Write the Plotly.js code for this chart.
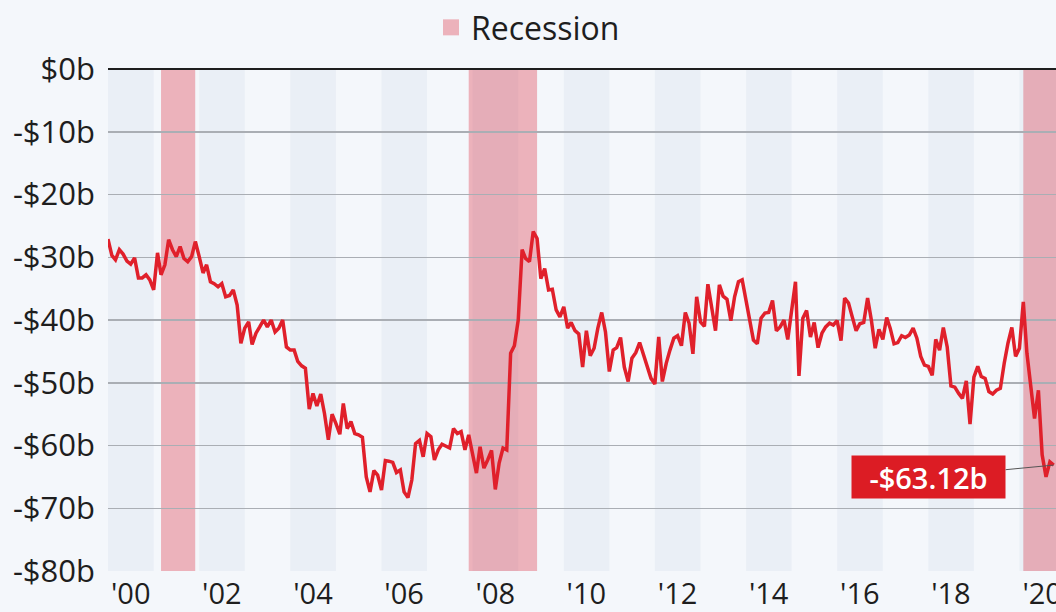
<!DOCTYPE html>
<html>
<head>
<meta charset="utf-8">
<script src="https://cdn.plot.ly/plotly-3.0.1.min.js"></script>
<style>
  html, body { margin: 0; padding: 0; background: #f4f7fb; }
  #chart { width: 1056px; height: 612px; }
</style>
</head>
<body>
<div id="chart"></div>
<script>
// Monthly US trade balance in billions of dollars, starting January 2000
const startYear = 2000;
const deficit = [
  -27.1, -29.7, -30.4, -28.8, -29.5, -30.6, -31.1, -30.1, -33.3, -33.3, -32.8, -33.6, // 2000
  -35.2, -29.3, -32.8, -31.2, -27.2, -28.8, -29.9, -28.3, -30.2, -30.7, -29.9, -27.5, // 2001
  -29.9, -32.5, -31.2, -33.9, -34.2, -34.7, -34.2, -36.3, -36.1, -35.2, -37.6, -43.7, // 2002
  -41.3, -40.3, -43.9, -42.1, -41.1, -40.0, -41.1, -40.0, -41.9, -41.3, -40.0, -44.3, // 2003
  -44.8, -44.8, -46.6, -47.3, -47.7, -54.2, -51.7, -53.7, -51.8, -54.9, -59.1, -55.0, // 2004
  -56.5, -58.2, -53.3, -57.3, -56.2, -58.1, -58.3, -58.7, -65.0, -67.4, -64.0, -64.7, // 2005
  -67.1, -62.4, -62.5, -62.7, -64.3, -63.9, -67.4, -68.3, -65.5, -59.7, -59.2, -61.8, // 2006
  -58.1, -58.6, -62.3, -60.7, -59.8, -60.1, -60.4, -57.3, -58.1, -57.8, -60.7, -58.3, // 2007
  -61.2, -64.4, -60.2, -63.6, -62.3, -60.8, -67.0, -62.8, -60.4, -60.7, -45.3, -44.1, // 2008
  -40.0, -28.8, -30.2, -30.7, -25.9, -27.0, -33.4, -31.8, -35.2, -35.1, -38.4, -39.5, // 2009
  -37.9, -41.3, -40.4, -41.7, -42.2, -47.5, -41.7, -45.7, -44.5, -41.3, -38.8, -41.9, // 2010
  -48.2, -44.8, -44.4, -42.8, -47.5, -49.8, -46.1, -45.2, -43.6, -45.6, -47.7, -49.3, // 2011
  -50.2, -42.7, -49.8, -46.9, -44.8, -42.9, -42.5, -44.1, -38.8, -40.5, -45.4, -36.3, // 2012
  -40.3, -41.0, -34.3, -37.9, -41.7, -34.4, -36.2, -36.7, -40.1, -36.3, -33.9, -33.6, // 2013
  -36.8, -40.0, -43.2, -43.8, -39.7, -38.9, -38.8, -36.9, -41.7, -41.1, -40.0, -43.1, // 2014
  -38.4, -33.9, -48.9, -39.7, -38.5, -42.7, -40.4, -44.4, -42.1, -41.1, -40.5, -40.8, // 2015
  -40.1, -43.3, -36.5, -37.3, -39.5, -41.7, -40.6, -40.4, -36.5, -40.0, -44.5, -41.5, // 2016
  -43.1, -39.6, -41.3, -43.8, -43.6, -42.5, -42.8, -42.4, -41.3, -42.9, -45.8, -47.2, // 2017
  -47.4, -48.8, -43.1, -44.8, -41.2, -44.3, -50.5, -50.7, -51.7, -52.5, -49.7, -56.6, // 2018
  -49.1, -47.4, -49.0, -49.3, -51.4, -51.8, -51.2, -50.9, -46.9, -43.7, -41.2, -45.8, // 2019
  -44.5, -37.1, -45.3, -50.4, -55.7, -51.2, -61.5, -65.0, -62.6, -63.12              // 2020
];

// Recession periods
const recessionStarts = ['2001-03-01', '2007-12-01', '2020-02-01'];
const recessionEnds   = ['2001-11-30', '2009-06-01', '2020-12-31'];

// Shaded (alternate) years
const bandYears = [2000, 2002, 2004, 2006, 2008, 2010, 2012, 2014, 2016, 2018, 2020];

// Axis ticks
const xTickYears = [2000, 2002, 2004, 2006, 2008, 2010, 2012, 2014, 2016, 2018, 2020];
const xTickLabels = ["'00", "'02", "'04", "'06", "'08", "'10", "'12", "'14", "'16", "'18", "'20"];
const yTickValues = [0, -10, -20, -30, -40, -50, -60, -70, -80];
const yTickLabels = ['$0b', '-$10b', '-$20b', '-$30b', '-$40b', '-$50b', '-$60b', '-$70b', '-$80b'];

const lastLabel = '-$63.12b';

// month dates
const pad = n => (n < 10 ? '0' + n : '' + n);
const months = deficit.map((_, i) => {
  const y = startYear + Math.floor(i / 12);
  const m = (i % 12) + 1;
  return y + '-' + pad(m) + '-01';
});

const recessionColor = 'rgba(220,20,40,0.3)';
const bandColor = '#eaeff6';
const lineColor = '#e0202b';

const shapes = [];
bandYears.forEach(y => {
  shapes.push({
    type: 'rect', xref: 'x', yref: 'paper', layer: 'below',
    x0: y + '-01-01', x1: (y + 1) + '-01-01', y0: 0, y1: 1,
    fillcolor: bandColor, line: { width: 0 }
  });
});
recessionStarts.forEach((s, i) => {
  shapes.push({
    type: 'rect', xref: 'x', yref: 'paper', layer: 'below',
    x0: s, x1: recessionEnds[i], y0: 0, y1: 1,
    fillcolor: recessionColor, line: { width: 0 }
  });
});

const traces = [
  {
    x: months, y: deficit, type: 'scatter', mode: 'lines',
    line: { color: lineColor, width: 3.5 },
    showlegend: false, hoverinfo: 'skip'
  },
  {
    x: [null], y: [null], type: 'scatter', mode: 'markers', name: 'Recession',
    marker: { symbol: 'square', size: 23, color: recessionColor },
    showlegend: true, hoverinfo: 'skip'
  }
];

const font = 'Open Sans, Noto Sans, sans-serif';

const layout = {
  width: 1056, height: 612,
  paper_bgcolor: '#f4f7fb', plot_bgcolor: '#f4f7fb',
  margin: { l: 108, r: 0, t: 69, b: 41 },
  font: { family: font, color: '#1e1e1e' },
  xaxis: {
    type: 'date',
    range: ['2000-01-01', '2020-10-20'],
    tickmode: 'array',
    tickvals: xTickYears.map(y => y + '-07-01'),
    ticktext: xTickLabels,
    showgrid: false, zeroline: false, showline: false, ticks: '',
    tickfont: { size: 29, family: font, color: '#1e1e1e' },
    ticklabelstandoff: 3,
    ticklabeloverflow: 'allow',
    fixedrange: true
  },
  yaxis: {
    range: [-80, 0],
    tickmode: 'array',
    tickvals: yTickValues,
    ticktext: yTickLabels,
    showgrid: true, gridcolor: '#aaaeb4', gridwidth: 1.5,
    zeroline: true, zerolinecolor: '#1e1e1e', zerolinewidth: 2,
    showline: false, ticks: '',
    tickfont: { size: 31, family: font, color: '#1e1e1e' },
    ticklabelstandoff: 12,
    fixedrange: true
  },
  showlegend: true,
  legend: {
    orientation: 'h', xref: 'container', yref: 'container',
    x: 0.5, xanchor: 'center', y: 0.955, yanchor: 'middle',
    font: { size: 32, family: font, color: '#1e1e1e' },
    bgcolor: 'rgba(0,0,0,0)'
  },
  shapes: shapes,
  annotations: [{
    x: months[months.length - 1], y: deficit[deficit.length - 1],
    xref: 'x', yref: 'y',
    text: lastLabel,
    showarrow: true, arrowhead: 0, arrowwidth: 1, arrowcolor: '#555',
    ax: -125, ay: 12,
    bgcolor: '#dc1c24', borderpad: 4,
    width: 145, height: 34,
    font: { color: '#ffffff', size: 29, family: font, weight: 600 }
  }]
};

Plotly.newPlot('chart', traces, layout, { staticPlot: true, displayModeBar: false });
</script>
</body>
</html>
